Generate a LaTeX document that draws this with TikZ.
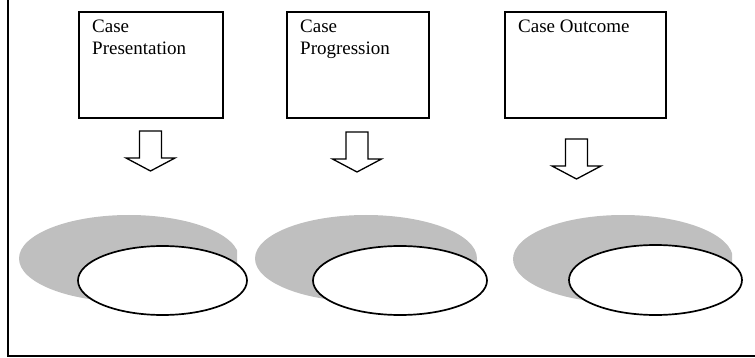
\documentclass[tikz,border=0pt]{standalone}
\usepackage{fontspec}
\setmainfont{Liberation Serif}
\usetikzlibrary{shapes.geometric}
\begin{document}
\begin{tikzpicture}[x=1pt,y=-1pt,
  casebox/.style={draw=black,line width=1.7pt,minimum width=144pt,minimum height=106pt,inner sep=0pt,anchor=north west},
  casetext/.style={anchor=base west,inner sep=0pt,align=left,font=\fontsize{19}{22}\selectfont},
  blockarrow/.style={draw=black,line width=1.3pt,fill=white,line join=miter},
  shade/.style={fill=black!25,draw=none},
  oval/.style={draw=black,line width=1.7pt,fill=white,ellipse,inner sep=0pt}]
\useasboundingbox (0,0) rectangle (755,358);
% frame
\coordinate (ftop) at (8,0);
\coordinate (fcorner) at (8,356);
\coordinate (fright) at (755,356);
\draw[line width=1.7pt] (ftop) -- (fcorner) -- (fright);
% boxes
\node[casebox] (b1) at (78,11) {};
\node[casebox,minimum width=142pt] (b2) at (286,11) {};
\node[casebox,minimum width=161pt] (b3) at (504,11) {};
% multi-line nodes: base anchor is the last line's baseline
\node[casetext] (t1) at (92,55) {Case\\Presentation};
\node[casetext] (t2) at (300,55) {Case\\Progression};
\node[casetext] (t3) at (518,33) {Case Outcome};
% block arrows
\newcommand{\blockdown}[2]{%
  \draw[blockarrow] (#1-11,#2) -- (#1+11,#2) -- (#1+11,#2+27) -- (#1+24.5,#2+27)
    -- (#1,#2+40) -- (#1-24.5,#2+27) -- (#1-11,#2+27) -- cycle;}
\blockdown{150.5}{131}
\blockdown{357}{132}
\blockdown{576.5}{139}
% shaded ellipses
\begin{scope}
  \clip (0,200) rectangle (237,320);
  \fill[shade] (129,258.5) ellipse [x radius=110, y radius=43.5];
\end{scope}
\begin{scope}
  \clip (240,200) rectangle (477,320);
  \fill[shade] (366,258.5) ellipse [x radius=111, y radius=43.5];
\end{scope}
\begin{scope}
  \clip (490,200) rectangle (732,320);
  \fill[shade] (623,259) ellipse [x radius=110, y radius=44];
\end{scope}
\node[oval,minimum width=169pt,minimum height=69pt] (e1) at (162.5,280.5) {};
\node[oval,minimum width=174pt,minimum height=69pt] (e2) at (400,280.5) {};
\node[oval,minimum width=173pt,minimum height=70pt] (e3) at (655.5,280) {};
\end{tikzpicture}
\end{document}
